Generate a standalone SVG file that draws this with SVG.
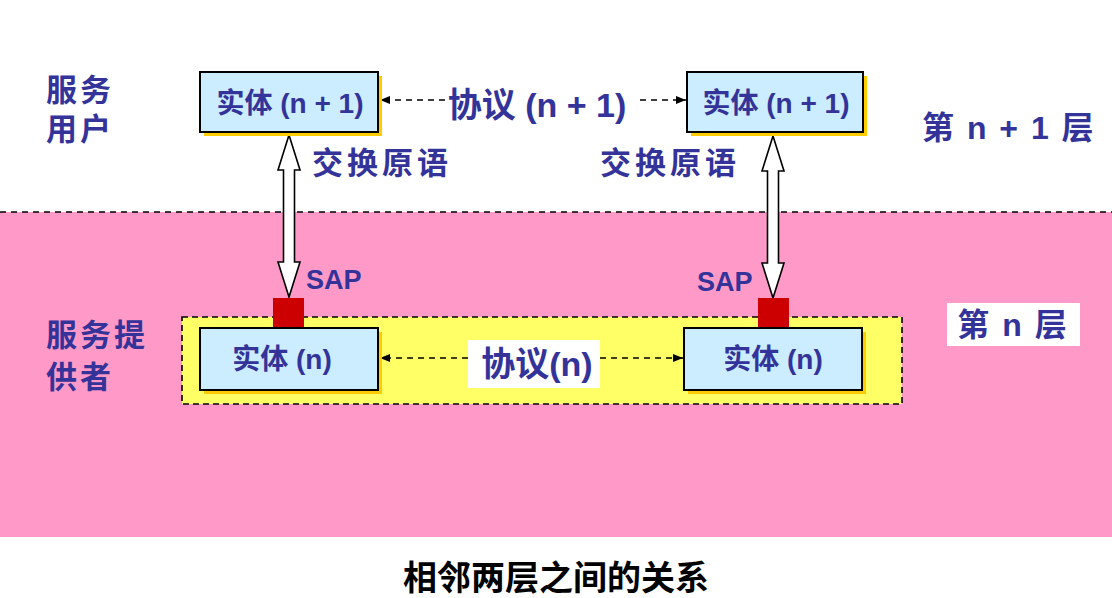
<svg xmlns="http://www.w3.org/2000/svg" width="1112" height="598" viewBox="0 0 1112 598">
<defs>
<style>
.t{font-family:"Liberation Sans","Noto Sans CJK SC",sans-serif;font-weight:bold;fill:#333399}
.box{fill:#CCECFF;stroke:#000;stroke-width:2}
.sh{fill:#FFCC00}
.dash{stroke:#000;stroke-width:1.6;stroke-dasharray:6 5;fill:none}
.dbl{fill:#fff;stroke:#000;stroke-width:1.6;stroke-linejoin:miter}
.sap{fill:#CC0000}
</style>
<marker id="ah" viewBox="0 0 10 10" refX="10" refY="5" markerWidth="10" markerHeight="10" markerUnits="userSpaceOnUse" orient="auto">
<path d="M0,1 L10,5 L0,9 Z" fill="#000"/>
</marker>
</defs>
<rect width="1112" height="598" fill="#fff"/>
<g id="layer-n">
<rect x="0" y="212" width="1112" height="325" fill="#FF99C8"/>
<line x1="0" y1="212" x2="1112" y2="212" class="dash"/>
<rect x="182" y="317" width="720" height="87" fill="#FFFF66" stroke="#000" stroke-width="1.6" stroke-dasharray="6 4"/>
</g>
<g id="labels">
<text class="t" x="46" y="101" font-size="31" letter-spacing="3">服务</text>
<text class="t" x="46" y="140" font-size="31" letter-spacing="3">用户</text>
<text class="t" x="46" y="346" font-size="31" letter-spacing="3">服务提</text>
<text class="t" x="46" y="388" font-size="31" letter-spacing="3">供者</text>
<text class="t" x="922" y="139" font-size="32" letter-spacing="2">第 n + 1 层</text>
<rect x="947" y="303" width="133" height="43" fill="#fff"/>
<text class="t" x="1013" y="336" font-size="32" letter-spacing="2" text-anchor="middle">第 n 层</text>
<text class="t" x="312" y="174" font-size="31" letter-spacing="4">交换原语</text>
<text class="t" x="600" y="174" font-size="31" letter-spacing="4">交换原语</text>
<text class="t" x="306" y="289" font-size="27">SAP</text>
<text class="t" x="697" y="291" font-size="27">SAP</text>
<text class="t" x="537" y="117" font-size="34" text-anchor="middle">协议 (n + 1)</text>
<rect x="468" y="340" width="132" height="48" fill="#fff"/>
<text class="t" x="537" y="376" font-size="34" text-anchor="middle">协议(n)</text>
</g>
<g id="connectors">
<line x1="445" y1="100" x2="380" y2="100" class="dash" marker-end="url(#ah)"/>
<line x1="640" y1="100" x2="686" y2="100" class="dash" marker-end="url(#ah)"/>
<line x1="468" y1="358" x2="380" y2="358" class="dash" marker-end="url(#ah)"/>
<line x1="600" y1="358" x2="683" y2="358" class="dash" marker-end="url(#ah)"/>
<path class="dbl" d="M289,135 L300,170 L294.5,170 L294.5,262 L300,262 L289,297 L278,262 L283.5,262 L283.5,170 L278,170 Z"/>
<path class="dbl" d="M773,136 L784,171 L778.5,171 L778.5,263 L784,263 L773,298 L762,263 L767.5,263 L767.5,171 L762,171 Z"/>
</g>
<g id="sap-left"><rect class="sap" x="273" y="298" width="31" height="30"/></g>
<g id="sap-right"><rect class="sap" x="758" y="298" width="31" height="30"/></g>
<g id="entity-n1-left">
<rect class="sh" x="204" y="76" width="178" height="60"/>
<rect class="box" x="200" y="72" width="178" height="60"/>
<text class="t" x="290" y="113" font-size="28" text-anchor="middle">实体 (n + 1)</text>
</g>
<g id="entity-n1-right">
<rect class="sh" x="691" y="76" width="176" height="60"/>
<rect class="box" x="687" y="72" width="176" height="60"/>
<text class="t" x="776" y="113" font-size="28" text-anchor="middle">实体 (n + 1)</text>
</g>
<g id="entity-n-left">
<rect class="sh" x="204" y="332" width="178" height="62"/>
<rect class="box" x="200" y="328" width="178" height="62"/>
<text class="t" x="282" y="369" font-size="28" text-anchor="middle">实体 (n)</text>
</g>
<g id="entity-n-right">
<rect class="sh" x="688" y="332" width="178" height="62"/>
<rect class="box" x="684" y="328" width="178" height="62"/>
<text class="t" x="773" y="369" font-size="28" text-anchor="middle">实体 (n)</text>
</g>
<text x="556" y="590" font-size="34" font-weight="bold" text-anchor="middle" font-family="'Noto Sans CJK SC',sans-serif" fill="#000">相邻两层之间的关系</text>
</svg>
